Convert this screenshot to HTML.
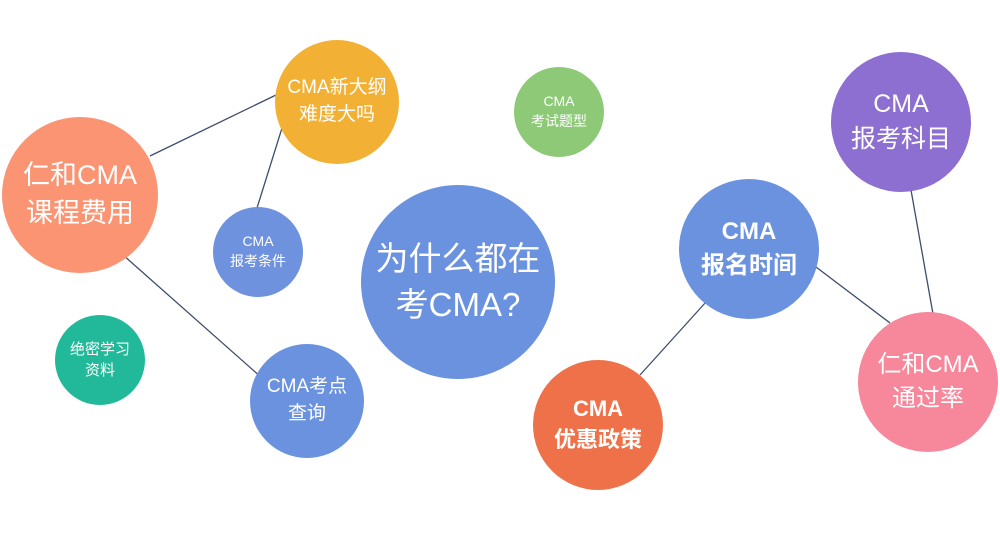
<!DOCTYPE html>
<html><head><meta charset="utf-8"><style>
body{margin:0;background:#fff;width:1000px;height:551px;overflow:hidden;position:relative;font-family:"Liberation Sans","Noto Sans CJK SC",sans-serif}
.c{position:absolute;border-radius:50%;display:flex;align-items:center;justify-content:center;text-align:center;color:#fff;line-height:1.4}
svg{position:absolute;left:0;top:0}
</style></head><body>
<svg width="1000" height="551"><g stroke="#3d4d6a" stroke-width="1.3">
<line x1="150" y1="156" x2="276" y2="95"/>
<line x1="257" y1="208" x2="282" y2="128"/>
<line x1="123" y1="255" x2="262" y2="378"/>
<line x1="640" y1="375" x2="706" y2="302"/>
<line x1="816" y1="267" x2="890" y2="323"/>
<line x1="911" y1="190" x2="933" y2="314"/>
</g></svg>
<div class="c" style="left:2px;top:117px;width:156px;height:156px;background:#fa9473;font-size:27px">仁和CMA<br>课程费用</div>
<div class="c" style="left:275px;top:40px;width:124px;height:124px;background:#f2b134;font-size:19px">CMA新大纲<br>难度大吗</div>
<div class="c" style="left:514px;top:67px;width:90px;height:90px;background:#8dc977;font-size:14px">CMA<br>考试题型</div>
<div class="c" style="left:831px;top:52px;width:140px;height:140px;background:#8d6fd1;font-size:25px">CMA<br>报考科目</div>
<div class="c" style="left:213px;top:207px;width:90px;height:90px;background:#6e92de;font-size:14px">CMA<br>报考条件</div>
<div class="c" style="left:361px;top:185px;width:194px;height:194px;background:#6b92de;font-size:33px">为什么都在<br>考CMA?</div>
<div class="c" style="left:679px;top:179px;width:140px;height:140px;background:#6b92de;font-size:24px;font-weight:bold">CMA<br>报名时间</div>
<div class="c" style="left:55px;top:315px;width:90px;height:90px;background:#22b99a;font-size:15px">绝密学习<br>资料</div>
<div class="c" style="left:250px;top:344px;width:114px;height:114px;background:#6b92de;font-size:19px">CMA考点<br>查询</div>
<div class="c" style="left:533px;top:360px;width:130px;height:130px;background:#ef7149;font-size:22px;font-weight:bold">CMA<br>优惠政策</div>
<div class="c" style="left:858px;top:312px;width:140px;height:140px;background:#f7879a;font-size:24px">仁和CMA<br>通过率</div>
</body></html>
